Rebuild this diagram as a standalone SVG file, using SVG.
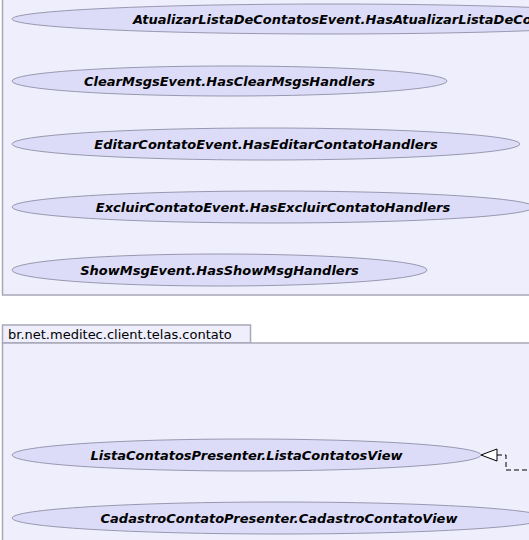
<svg xmlns="http://www.w3.org/2000/svg" width="529" height="540" viewBox="0 0 529 540">
<defs>
<style>
.pkg{fill:#EEEEFC;stroke:#A8A8B8;stroke-width:1.5}
.uc{fill:#DCDCF8;stroke:#9898B0;stroke-width:1}
.lbl{font-family:"DejaVu Sans",sans-serif;font-size:13px;font-weight:bold;font-style:oblique;fill:#000}
.ptitle{font-family:"DejaVu Sans",sans-serif;font-size:13px;fill:#000}
.conn{fill:none;stroke:#000;stroke-width:1;stroke-dasharray:5,3}
</style>
</defs>
<rect width="529" height="540" fill="#FFFFFF"/>
<g id="pkg-events">
<rect class="pkg" x="2.5" y="-20" width="560" height="315"/>
</g>
<g id="pkg-contato">
<rect class="pkg" x="2.5" y="325" width="248" height="18"/>
<rect class="pkg" x="2.5" y="343" width="560" height="220"/>
<text class="ptitle" x="8" y="339">br.net.meditec.client.telas.contato</text>
</g>
<g id="uc-atualizar">
<ellipse class="uc" cx="330" cy="19" rx="318" ry="15"/>
<text class="lbl" x="133" y="24">AtualizarListaDeContatosEvent.HasAtualizarListaDeContatosHandlers</text>
</g>
<g id="uc-clear">
<ellipse class="uc" cx="229.5" cy="81" rx="217.5" ry="15"/>
<text class="lbl" x="229.5" y="86" text-anchor="middle">ClearMsgsEvent.HasClearMsgsHandlers</text>
</g>
<g id="uc-editar">
<ellipse class="uc" cx="266" cy="144" rx="254" ry="16"/>
<text class="lbl" x="266" y="149" text-anchor="middle">EditarContatoEvent.HasEditarContatoHandlers</text>
</g>
<g id="uc-excluir">
<ellipse class="uc" cx="273" cy="207" rx="261" ry="16"/>
<text class="lbl" x="273" y="212" text-anchor="middle">ExcluirContatoEvent.HasExcluirContatoHandlers</text>
</g>
<g id="uc-showmsg">
<ellipse class="uc" cx="219.5" cy="270" rx="207.5" ry="16"/>
<text class="lbl" x="219.5" y="275" text-anchor="middle">ShowMsgEvent.HasShowMsgHandlers</text>
</g>
<g id="uc-listaview">
<ellipse class="uc" cx="246.5" cy="455" rx="234.5" ry="16"/>
<text class="lbl" x="246.5" y="460" text-anchor="middle">ListaContatosPresenter.ListaContatosView</text>
</g>
<g id="uc-cadastroview">
<ellipse class="uc" cx="279" cy="518" rx="267" ry="16"/>
<text class="lbl" x="279" y="523" text-anchor="middle">CadastroContatoPresenter.CadastroContatoView</text>
</g>
<g id="connectors">
<path class="conn" d="M497,455 H506 V470 H535"/>
<polygon points="481,455 497,449 497,461" fill="#FFFFFF" stroke="#000" stroke-width="1"/>
</g>
</svg>
